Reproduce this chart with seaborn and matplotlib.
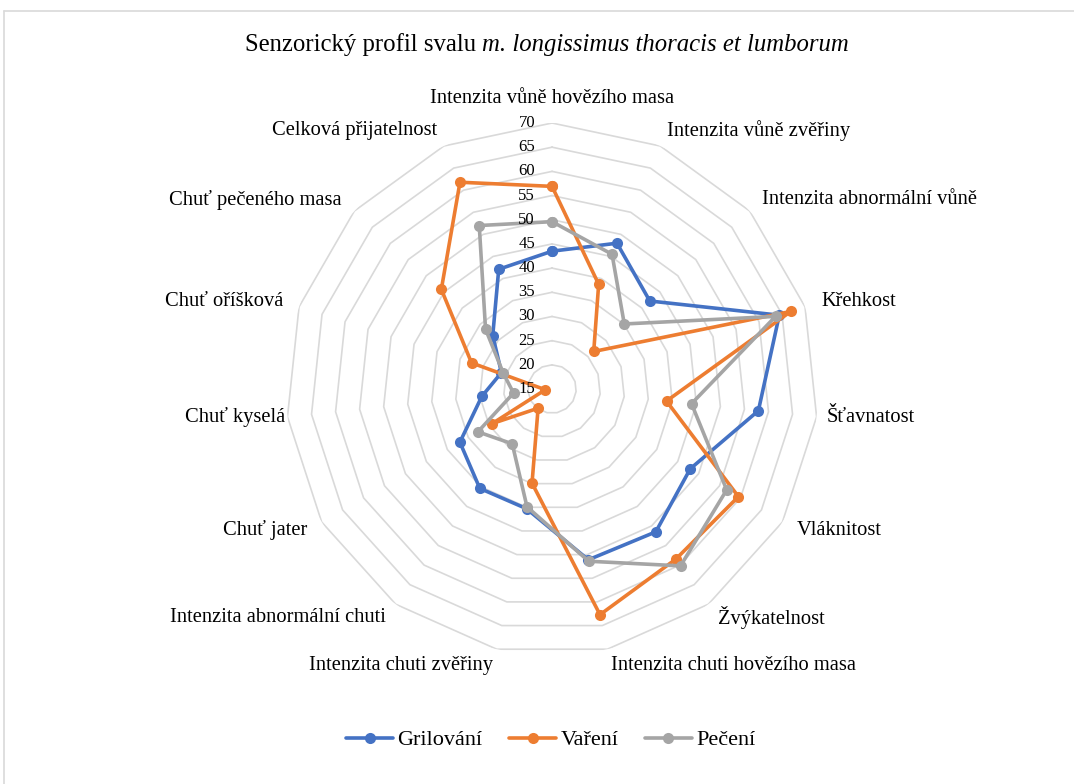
import numpy as np
import pandas as pd
import seaborn as sns
import matplotlib.pyplot as plt
from matplotlib.lines import Line2D

# Categories in clockwise order, starting at the top
categories = [
    "Intenzita vůně hovězího masa",
    "Intenzita vůně zvěřiny",
    "Intenzita abnormální vůně",
    "Křehkost",
    "Šťavnatost",
    "Vláknitost",
    "Žvýkatelnost",
    "Intenzita chuti hovězího masa",
    "Intenzita chuti zvěřiny",
    "Intenzita abnormální chuti",
    "Chuť jater",
    "Chuť kyselá",
    "Chuť oříšková",
    "Chuť pečeného masa",
    "Celková přijatelnost",
]

grilovani = [43.5, 48.0, 42.2, 64.4, 57.9, 48.0, 51.5, 51.1, 40.3, 40.4, 37.0, 29.6, 26.0, 31.5, 42.1]
vareni = [56.9, 38.7, 26.6, 66.9, 38.8, 59.5, 58.5, 62.7, 34.9, 19.9, 29.3, 16.4, 32.5, 45.8, 61.8]
peceni = [49.6, 45.5, 35.1, 63.6, 44.0, 56.7, 60.2, 51.4, 39.9, 29.0, 32.7, 23.0, 25.6, 33.5, 52.0]

series_names = ["Grilování", "Vaření", "Pečení"]
r_ticks = [15, 20, 25, 30, 35, 40, 45, 50, 55, 60, 65, 70]

colors = {
    "Grilování": "#4472C4",
    "Vaření": "#ED7D31",
    "Pečení": "#A5A5A5",
}

sns.set_style("white")
plt.rcParams["font.family"] = ["Liberation Serif", "DejaVu Serif"]
plt.rcParams["text.color"] = "black"

n = len(categories)
theta = np.linspace(0, 2 * np.pi, n, endpoint=False)
theta_closed = np.append(theta, 2 * np.pi)

# long-form table, each polygon closed by repeating the first point
rows = []
for name, vals in zip(series_names, [grilovani, vareni, peceni]):
    closed = list(vals) + [vals[0]]
    for t, v in zip(theta_closed, closed):
        rows.append({"theta": t, "value": v, "method": name})
df = pd.DataFrame(rows)

fig = plt.figure(figsize=(10.74, 7.84), dpi=100)
ax = fig.add_axes([0.2663, 0.1645, 0.4954, 0.6786], projection="polar")
ax.set_theta_zero_location("N")
ax.set_theta_direction(-1)

# polygon gridlines like the Excel radar chart
for v in r_ticks[1:]:
    ax.plot(theta_closed, [v] * (n + 1), color="#D9D9D9", lw=1.2, zorder=1)

sns.lineplot(
    data=df, x="theta", y="value", hue="method", palette=colors,
    hue_order=series_names, sort=False, estimator=None,
    marker="o", markersize=8, markeredgewidth=0, linewidth=2.6,
    legend=False, ax=ax, zorder=3,
)

ax.set_ylim(15, 70)
ax.grid(False)
ax.set_xticks([])
ax.set_yticks([])
ax.set_xlabel("")
ax.set_ylabel("")
ax.spines["polar"].set_visible(False)

# radial value labels left of the vertical axis
for v in r_ticks:
    ax.annotate(str(v), xy=(0, v), xytext=(-17, 0), textcoords="offset pixels",
                ha="right", va="center", fontsize=12)

# category labels
label_r = {0: 75, 4: 72, 11: 70.5}
for k, (t, lab) in enumerate(zip(theta, categories)):
    if k == 0:
        ha = "center"
    elif k <= 7:
        ha = "left"
    else:
        ha = "right"
    ax.text(t, label_r.get(k, 73.5), lab, ha=ha, va="center", fontsize=14.8,
            clip_on=False)

# title: plain part + italic species part, centred together
renderer = fig.canvas.get_renderer()
t1 = fig.text(0, 0.943, "Senzorický profil svalu ", ha="left", va="center",
              fontsize=17.8)
t2 = fig.text(0, 0.943, "m. longissimus thoracis et lumborum", ha="left",
              va="center", fontsize=17.8, style="italic")
w1 = t1.get_window_extent(renderer).width / fig.bbox.width
w2 = t2.get_window_extent(renderer).width / fig.bbox.width
x0 = 0.509 - (w1 + w2) / 2
t1.set_x(x0)
t2.set_x(x0 + w1)

handles = [Line2D([0], [0], color=colors[s], lw=2.6, marker="o", markersize=8,
                  markeredgewidth=0) for s in series_names]
fig.legend(handles, series_names, loc="center", bbox_to_anchor=(0.513, 0.056),
           ncol=3, frameon=False, fontsize=16, handlelength=2.1,
           handletextpad=0.2, columnspacing=1.2)

# Excel chart-area border (only top and left edges visible in the crop)
fig.add_artist(Line2D([4 / 1074, 1], [1 - 11 / 784, 1 - 11 / 784],
                      transform=fig.transFigure, color="#D9D9D9", lw=1.2))
fig.add_artist(Line2D([4 / 1074, 4 / 1074], [0, 1 - 11 / 784],
                      transform=fig.transFigure, color="#D9D9D9", lw=1.2))

fig.savefig("out.png", dpi=100)
